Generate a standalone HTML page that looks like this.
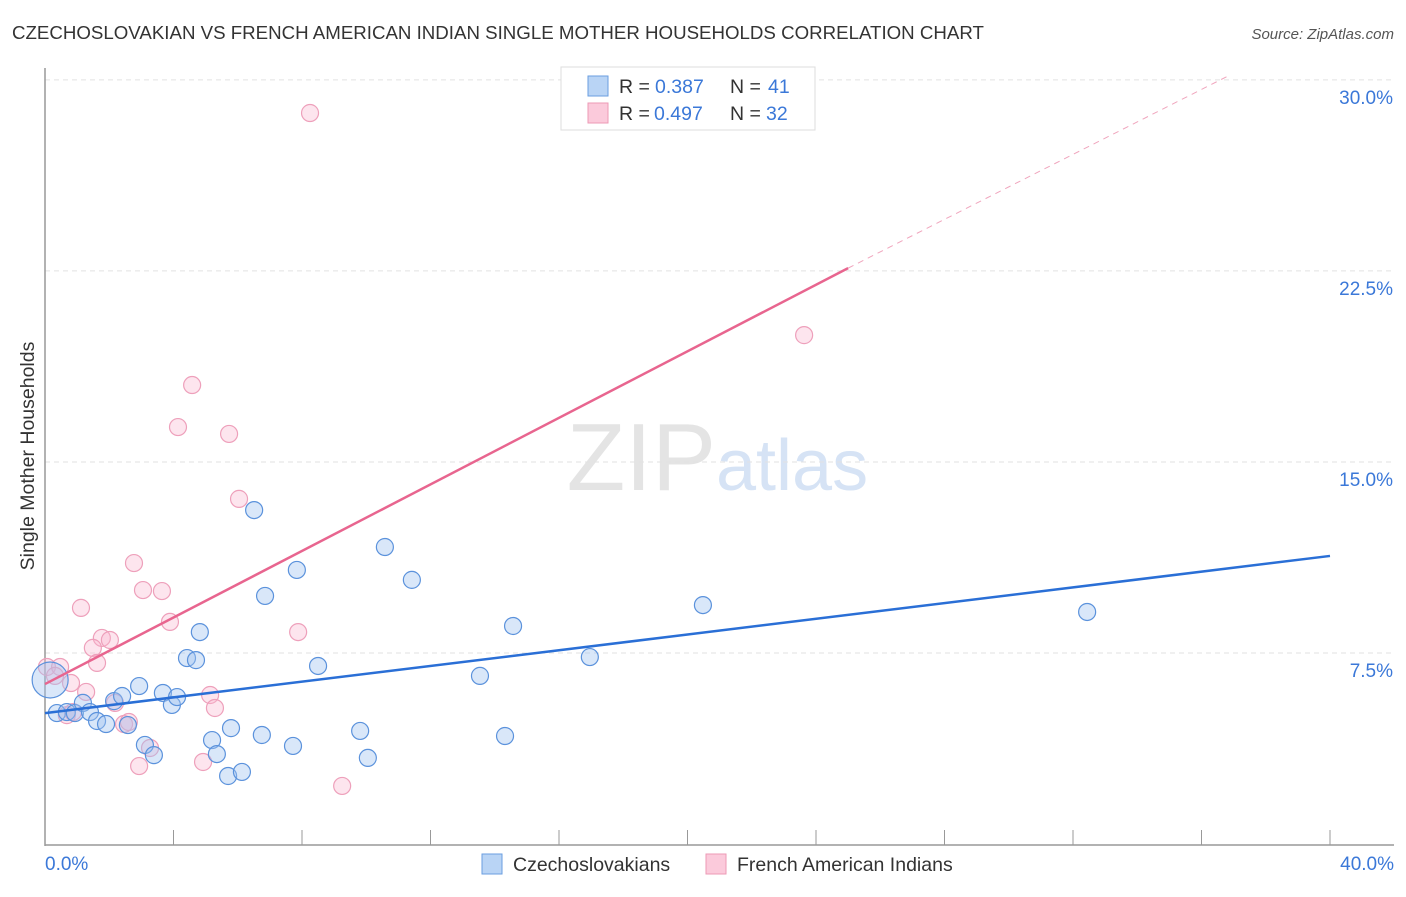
<!DOCTYPE html>
<html><head><meta charset="utf-8"><style>
body{margin:0;background:#fff;font-family:"Liberation Sans",sans-serif}
svg text{font-family:"Liberation Sans",sans-serif}
</style></head><body>
<svg width="1406" height="892">
<text x="12" y="39" font-size="18.7" fill="#333">CZECHOSLOVAKIAN VS FRENCH AMERICAN INDIAN SINGLE MOTHER HOUSEHOLDS CORRELATION CHART</text>
<text x="1394" y="39" font-size="15" fill="#555" font-style="italic" text-anchor="end">Source: ZipAtlas.com</text>
<text x="716" y="490" font-size="96" fill="#e4e4e4" font-family="Liberation Serif" text-anchor="end">ZIP</text>
<text x="716" y="490" font-size="72" fill="#d6e3f5">atlas</text>
<g id="grid"></g>
<line x1="45" y1="68" x2="45" y2="846" stroke="#999" stroke-width="1.5"/>
<line x1="45" y1="845" x2="1394" y2="845" stroke="#999" stroke-width="1.5"/>
<g id="ticks"></g>
<text x="34" y="456" font-size="19.5" fill="#333" text-anchor="middle" transform="rotate(-90 34 456)">Single Mother Households</text>
<text x="45" y="870" font-size="19" fill="#3b78d8">0.0%</text>
<text x="1394" y="870" font-size="19" fill="#3b78d8" text-anchor="end">40.0%</text>
<g id="marks"></g>
<g>
<rect x="561" y="67" width="254" height="63" fill="#fff" stroke="#ddd"/>
<rect x="588" y="76" width="20" height="20" fill="#b9d4f5" stroke="#6a9ee0"/>
<rect x="588" y="103" width="20" height="20" fill="#fbcadb" stroke="#ec9ab6"/>
<text x="619" y="93" font-size="19.5" fill="#333">R =</text>
<text x="655" y="93" font-size="19.5" fill="#3b78d8">0.387</text>
<text x="730" y="93" font-size="19.5" fill="#333">N =</text>
<text x="768" y="93" font-size="19.5" fill="#3b78d8">41</text>
<text x="619" y="120" font-size="19.5" fill="#333">R =</text>
<text x="654" y="120" font-size="19.5" fill="#3b78d8">0.497</text>
<text x="730" y="120" font-size="19.5" fill="#333">N =</text>
<text x="766" y="120" font-size="19.5" fill="#3b78d8">32</text>
</g>
<g>
<rect x="482" y="854" width="20" height="20" fill="#b9d4f5" stroke="#6a9ee0"/>
<text x="513" y="871" font-size="19.5" fill="#333">Czechoslovakians</text>
<rect x="706" y="854" width="20" height="20" fill="#fbcadb" stroke="#ec9ab6"/>
<text x="737" y="871" font-size="19.5" fill="#333">French American Indians</text>
</g>
</svg>
<script>
const yTicks=[7.5,15,22.5,30];
const yTickLabels=["7.5%","15.0%","22.5%","30.0%"];
const czX=[0.16,0.37,0.68,0.93,1.18,1.40,1.62,1.90,2.15,2.40,2.58,2.93,3.11,3.39,3.67,3.95,4.11,4.42,4.70,4.82,5.20,5.35,5.70,5.79,6.13,6.51,6.75,6.85,7.72,7.84,8.50,9.81,10.05,10.58,11.42,13.54,14.32,14.57,16.96,20.48,32.44];
const czY=[6.44,5.14,5.18,5.14,5.54,5.18,4.83,4.71,5.61,5.81,4.67,6.20,3.89,3.49,5.93,5.46,5.77,7.30,7.22,8.32,4.08,3.53,2.67,4.55,2.83,13.11,4.28,9.74,3.85,10.76,6.99,4.44,3.38,11.66,10.37,6.60,4.24,8.56,7.34,9.38,9.11];
const frX=[8.25,4.58,4.14,5.73,6.04,2.77,1.12,3.05,3.64,3.89,1.77,2.02,1.49,1.62,0.06,0.47,0.31,0.81,1.28,2.18,2.46,3.27,5.14,5.29,2.61,0.68,2.93,4.92,7.88,9.25,23.63,0.87];
const frY=[28.70,18.02,16.37,16.10,13.55,11.03,9.27,9.97,9.93,8.72,8.09,8.01,7.70,7.11,6.95,6.95,6.60,6.32,5.97,5.54,4.71,3.77,5.85,5.34,4.79,5.06,3.06,3.22,8.32,2.28,19.98,5.18];
const czTrend=[0,5.14,40,11.31];
const frTrend=[0,6.28,25,22.61,36.9,30.2];
const X=v=>45+v*32.125, Y=v=>844-v*25.47;
const NS="http://www.w3.org/2000/svg";
function mk(t,a,p){const e=document.createElementNS(NS,t);for(const k in a)e.setAttribute(k,a[k]);p.appendChild(e);return e;}
const grid=document.getElementById('grid'),ticks=document.getElementById('ticks'),marks=document.getElementById('marks');
yTicks.forEach((v,i)=>{
 const l=mk('line',{x1:45,x2:1394,y1:Y(v),y2:Y(v),stroke:'#e2e2e2','stroke-dasharray':'5,4'},grid);
 
 
 const t=mk('text',{x:1393,y:Y(v)+24,'font-size':19,fill:'#3b78d8','text-anchor':'end'},ticks);
 t.textContent=yTickLabels[i];
 
 
});
for(let i=1;i<=10;i++){
 const l=mk('line',{x1:X(i*4),x2:X(i*4),y1:830,y2:845,stroke:'#999'},ticks);
 
 
}
frX.forEach((v,i)=>{
 const c=mk('circle',{cx:X(v),cy:Y(frY[i]),r:8.5,fill:'rgba(248,180,205,0.35)',stroke:'#eea0bb','stroke-width':1.2},marks);
 
 
});
czX.forEach((v,i)=>{
 const c=mk('circle',{cx:X(v),cy:Y(czY[i]),r:i==0?18:8.5,fill:'rgba(160,195,240,0.4)',stroke:'#5b92dc','stroke-width':1.2},marks);
 
 
});
let l=mk('line',{x1:X(czTrend[0]),y1:Y(czTrend[1]),x2:X(czTrend[2]),y2:Y(czTrend[3]),stroke:'#2a6fd6','stroke-width':2.5},marks);


l=mk('line',{x1:X(frTrend[0]),y1:Y(frTrend[1]),x2:X(frTrend[2]),y2:Y(frTrend[3]),stroke:'#e8658f','stroke-width':2.5},marks);


l=mk('line',{x1:X(frTrend[2]),y1:Y(frTrend[3]),x2:X(frTrend[4]),y2:Y(frTrend[5]),stroke:'#f0a5bd','stroke-width':1,'stroke-dasharray':'6,5'},marks);


</script>
</body></html>
